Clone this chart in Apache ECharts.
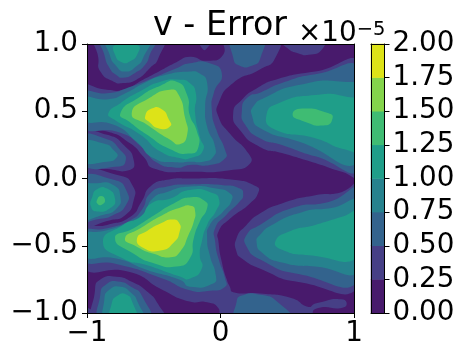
<!DOCTYPE html>
<html><head><meta charset="utf-8">
<style>html,body{margin:0;padding:0;background:#fff}#c{width:466px;height:360px}</style>
<script src="https://cdn.jsdelivr.net/npm/echarts@6/dist/echarts.min.js"></script>
</head><body><div id="c"></div>
<script>
// Contour outlines, in data units (x, y). Each list holds the regions where v-error >= that level.
const above000 = [
 [[-1,-1],[1,-1],[1,1],[-1,1]]
];
const above025 = [
 [[-.93,1.06],[-.915,.895],[-.9,.795],[-.8,.72],[-.73,.71],[-.63,.735],[-.53,.82],[-.465,.895],[-.44,1.06]],
 [[-.17,1.05],[-.14,.97],[-.11,.96],[-.065,1.05]],
 [[.435,1.05],[.5,.97],[.585,.93],[.66,.92],[.76,.96],[.77,1.05]],
 [[-1.05,.675],[-.85,.66],[-.73,.66],[-.58,.735],[-.455,.8],[-.33,.865],[-.23,.905],[-.1,.875],[.02,.92],[.035,1.06],[.42,1.06],[.41,.895],[.295,.81],[.095,.71],[-.015,.56],[-.015,.46],[.07,.335],[.21,.185],[.22,.11],[.095,.065],[-.23,.05],[-.5,.075],[-.575,.16],[-.675,.26],[-.85,.35],[-1.05,.365]],
 [[-1.05,.33],[-.85,.325],[-.71,.235],[-.65,.135],[-.675,.065],[-.85,.07],[-1.05,.09]],
 [[-1.05,.025],[-.75,.02],[-.655,-.06],[-.65,-.16],[-.71,-.27],[-.825,-.31],[-1.05,-.335]],
 [[-1.05,-.385],[-.85,-.345],[-.675,-.285],[-.59,-.17],[-.525,-.06],[-.4,-.01],[-.23,0],[.095,-.01],[.27,-.06],[.285,-.1],[.22,-.185],[.07,-.3],[-.015,-.395],[-.015,-.47],[.01,-.62],[.045,-.745],[.07,-.805],[.095,-.845],[.295,-.855],[.535,-.89],[.66,-.955],[.71,-.93],[.92,-.9],[.93,-.955],[.71,-.97],[.67,-1.05],[0,-1.05],[-.015,-.965],[-.1,-.92],[-.23,-.915],[-.43,-.83],[-.68,-.695],[-1.05,-.655]],
 [[-.925,-1.05],[-.94,-.83],[-.9,-.75],[-.78,-.73],[-.66,-.77],[-.55,-.84],[-.47,-.93],[-.43,-1.05]],
 [[-1.05,-.965],[-.95,-.985],[-.88,-1.05],[-1.05,-1.05]],
 [[.095,.485],[.16,.585],[.27,.67],[.43,.74],[.71,.795],[1.05,.84],[1.05,.02],[.91,.05],[.71,.115],[.46,.19],[.295,.235],[.145,.36]],
 [[.12,-.445],[.195,-.345],[.295,-.26],[.46,-.185],[.71,-.125],[.91,-.1],[1.05,-.03],[1.05,-.78],[.585,-.77],[.295,-.67],[.16,-.595],[.12,-.545]]
];
const above050 = [
 [[-.89,1.05],[-.87,.92],[-.83,.82],[-.78,.77],[-.73,.75],[-.64,.785],[-.565,.845],[-.53,.92],[-.49,1.05]],
 [[.09,1.06],[.095,.9],[.14,.84],[.24,.84],[.3,.9],[.31,1.06]],
 [[-1.05,.625],[-.83,.635],[-.68,.68],[-.5,.75],[-.33,.82],[-.23,.857],[-.08,.857],[.01,.78],[-.05,.635],[-.065,.51],[-.03,.36],[.035,.21],[.035,.15],[-.08,.1],[-.23,.1],[-.33,.08],[-.48,.12],[-.58,.225],[-.75,.34],[-1.05,.395]],
 [[-1.05,.305],[-.86,.295],[-.74,.2],[-.71,.135],[-.76,.09],[-1.05,.115]],
 [[-1.05,-.01],[-.8,-.01],[-.7,-.1],[-.71,-.2],[-.8,-.27],[-.9,-.3],[-1.05,-.3]],
 [[-1.05,-.41],[-.85,-.37],[-.675,-.31],[-.59,-.235],[-.525,-.11],[-.4,-.06],[-.23,-.045],[.02,-.05],[.145,-.075],[.17,-.12],[.145,-.17],[.045,-.27],[-.04,-.37],[-.04,-.47],[-.015,-.595],[.035,-.745],[.035,-.805],[-.08,-.835],[-.23,-.83],[-.43,-.745],[-.78,-.635],[-1.05,-.6]],
 [[-.888,-1.05],[-.9,-.86],[-.86,-.79],[-.77,-.765],[-.66,-.81],[-.59,-.87],[-.543,-1.05]],
 [[.16,.5],[.2,.6],[.3,.64],[.46,.71],[.71,.775],[1.05,.8],[1.05,.085],[.71,.165],[.46,.25],[.295,.3],[.185,.4]],
 [[.195,-.42],[.295,-.345],[.535,-.22],[.81,-.175],[1.05,-.09],[1.05,-.74],[.585,-.71],[.295,-.6],[.195,-.505]],
 [[.124,-1.05],[.12,-.92],[.16,-.87],[.3,-.865],[.43,-.92],[.52,-1.05]]
];
const above075 = [
 [[-.85,1.05],[-.83,.92],[-.78,.835],[-.715,.795],[-.63,.835],[-.58,.895],[-.54,1.05]],
 [[-1.05,.59],[-.84,.59],[-.73,.625],[-.56,.715],[-.43,.765],[-.23,.795],[-.155,.78],[-.1,.71],[-.115,.535],[-.1,.385],[-.04,.235],[-.055,.16],[-.13,.125],[-.23,.125],[-.33,.12],[-.5,.15],[-.63,.275],[-.8,.4],[-1.05,.445]],
 [[-1.05,.26],[-.875,.26],[-.79,.2],[-.775,.16],[-.85,.125],[-1.05,.135]],
 [[-1.05,-.07],[-.925,-.035],[-.8,-.05],[-.75,-.135],[-.775,-.22],[-.875,-.27],[-1.05,-.285]],
 [[-1.05,-.43],[-.85,-.385],[-.675,-.32],[-.575,-.26],[-.51,-.15],[-.4,-.1],[-.23,-.06],[-.03,-.075],[.07,-.11],[.085,-.16],[.02,-.245],[-.08,-.345],[-.1,-.445],[-.08,-.57],[-.035,-.72],[-.055,-.78],[-.23,-.805],[-.3,-.755],[-.55,-.68],[-.78,-.595],[-1.05,-.57]],
 [[-.85,-1.05],[-.87,-.9],[-.83,-.825],[-.75,-.805],[-.67,-.85],[-.62,-.92],[-.588,-1.05]],
 [[.235,.47],[.245,.535],[.33,.6],[.585,.695],[.92,.72],[1.05,.66],[1.05,.13],[.585,.275],[.295,.375]],
 [[.27,-.47],[.295,-.42],[.385,-.345],[.61,-.25],[.83,-.22],[1.05,-.18],[1.05,-.67],[.71,-.655],[.46,-.625],[.31,-.55]]
];
const above100 = [
 [[-.79,.99],[-.79,.92],[-.74,.865],[-.68,.87],[-.62,.93],[-.62,.99]],
 [[-.84,.485],[-.75,.56],[-.6,.65],[-.45,.72],[-.3,.735],[-.23,.71],[-.185,.635],[-.19,.485],[-.155,.31],[-.13,.21],[-.23,.15],[-.3,.15],[-.45,.2],[-.6,.325],[-.8,.44]],
 [[-.96,-.135],[-.925,-.08],[-.85,-.075],[-.79,-.15],[-.825,-.22],[-.925,-.245],[-.97,-.21]],
 [[-.88,-.47],[-.73,-.345],[-.6,-.285],[-.52,-.185],[-.38,-.15],[-.23,-.085],[-.055,-.11],[-.01,-.16],[-.03,-.235],[-.1,-.345],[-.14,-.47],[-.155,-.57],[-.14,-.67],[-.23,-.745],[-.3,-.73],[-.55,-.645],[-.73,-.595]],
 [[-.813,-1.05],[-.815,-.93],[-.77,-.87],[-.71,-.86],[-.66,-.92],[-.64,-1.05]],
 [[.345,.475],[.435,.56],[.71,.62],[.935,.61],[1.05,.55],[1.05,.215],[.935,.215],[.71,.3],[.395,.37]],
 [[.41,-.47],[.51,-.395],[.71,-.345],[.91,-.285],[1.05,-.245],[1.05,-.57],[.66,-.57],[.46,-.53]]
];
const above125 = [
 [[-.75,.485],[-.6,.61],[-.45,.69],[-.33,.72],[-.25,.62],[-.23,.47],[-.18,.36],[-.165,.235],[-.23,.185],[-.38,.22],[-.55,.325],[-.68,.42]],
 [[-.925,-.16],[-.895,-.13],[-.865,-.16],[-.89,-.195],[-.92,-.19]],
 [[-.79,-.445],[-.65,-.37],[-.5,-.275],[-.35,-.185],[-.22,-.14],[-.115,-.17],[-.1,-.22],[-.155,-.32],[-.2,-.445],[-.23,-.595],[-.33,-.655],[-.5,-.63],[-.65,-.56]],
 [[.54,.475],[.61,.52],[.81,.485],[.84,.45],[.785,.395],[.61,.43]]
];
const above150 = [
 [[-.665,.485],[-.53,.6],[-.38,.66],[-.315,.625],[-.265,.45],[-.25,.325],[-.305,.255],[-.38,.29],[-.55,.4]],
 [[-.715,-.445],[-.6,-.37],[-.45,-.28],[-.3,-.215],[-.215,-.205],[-.19,-.245],[-.2,-.32],[-.24,-.42],[-.3,-.54],[-.375,-.585],[-.5,-.56],[-.63,-.505]]
];
const above175 = [
 [[-.565,.46],[-.515,.52],[-.44,.515],[-.385,.435],[-.375,.39],[-.455,.37],[-.54,.425]],
 [[-.625,-.445],[-.55,-.39],[-.45,-.335],[-.36,-.305],[-.31,-.33],[-.305,-.39],[-.35,-.475],[-.45,-.535],[-.58,-.515]]
];
const outlinesByLevel = [above000,above025,above050,above075,above100,above125,above150,above175];
const levels = [0,0.25,0.5,0.75,1,1.25,1.5,1.75,2];
const bandColors = ["#481a6c","#463f86","#33638d","#26828e","#1f9e89","#3fbc73","#84d44b","#dde318"];
const xTicks = {"-1":"\u22121","0":"0","1":"1"};
const yTicks = {"-1":"\u22121.0","-0.5":"\u22120.5","0":"0.0","0.5":"0.5","1":"1.0"};
const titleText = "v - Error";

const polys = [];
outlinesByLevel.forEach((list,lv)=>list.forEach(pts=>polys.push({pts,lv})));
const font = "DejaVu Sans";
const lineS = {lineStyle:{color:"#000",width:1}};
const frameX = (g,pos)=>({type:"value",gridIndex:g,position:pos,min:-1,max:1,z:5,axisLine:{show:true,onZero:false,...lineS},axisTick:{show:false},axisLabel:{show:false},splitLine:{show:false}});
const tickAxis = (g,pos,min,max,iv,fmt,margin)=>({type:"value",gridIndex:g,position:pos,min,max,interval:iv,z:5,
  axisLine:{show:true,onZero:false,...lineS},axisTick:{show:true,length:5,...lineS},splitLine:{show:false},
  axisLabel:{show:true,fontFamily:font,fontSize:27.8,color:"#000",margin,showMinLabel:true,showMaxLabel:true,hideOverlap:false,formatter:fmt}});
const chart = echarts.init(document.getElementById("c"),null,{renderer:"canvas"});
chart.setOption({
  animation:false,
  backgroundColor:"#fff",
  title:[
    {text:titleText,left:148,top:5,textStyle:{fontFamily:font,fontSize:33.3,fontWeight:"normal",color:"#000"}},
    {text:"\u00d710{s|\u22125}",left:293,top:15,textStyle:{fontFamily:font,fontSize:27.8,fontWeight:"normal",color:"#000",
      rich:{s:{fontFamily:font,fontSize:19.5,verticalAlign:"top",padding:[0,0,8,0],color:"#000"}}}}
  ],
  grid:[
    {left:87,top:44,width:267,height:269},
    {left:371,top:44,width:13.5,height:269}
  ],
  xAxis:[
    tickAxis(0,"bottom",-1,1,1,v=>xTicks[String(v)],7),
    frameX(0,"top"),
    {type:"category",gridIndex:1,position:"bottom",data:[0],z:5,axisLine:{show:true,onZero:false,...lineS},axisTick:{show:false},axisLabel:{show:false}},
    frameX(1,"top")
  ],
  yAxis:[
    tickAxis(0,"left",-1,1,0.5,v=>yTicks[String(v)],9),
    frameX(0,"right"),
    {type:"category",gridIndex:1,position:"left",data:bandColors.map((c,b)=>b),z:5,axisLine:{show:true,onZero:false,...lineS},axisTick:{show:false},axisLabel:{show:false}},
    tickAxis(1,"right",0,2,0.25,v=>v.toFixed(2),8)
  ],
  visualMap:{type:"piecewise",show:false,seriesIndex:[1],dimension:2,
    pieces:bandColors.map((c,b)=>({min:levels[b],max:levels[b+1],color:c}))},
  series:[
    {type:"custom",xAxisIndex:0,yAxisIndex:0,clip:true,silent:true,
     data:polys.map(p=>[p.pts[0][0],p.pts[0][1],levels[p.lv]]),
     renderItem:(params,api)=>{
       const p=polys[params.dataIndex];
       return {type:"polygon",shape:{points:p.pts.map(q=>api.coord(q)),smooth:p.lv?0.6:0},style:{fill:bandColors[p.lv],stroke:null}};
     }},
    {type:"heatmap",xAxisIndex:2,yAxisIndex:2,progressive:0,silent:true,emphasis:{disabled:true},
     data:bandColors.map((c,b)=>[0,b,(levels[b]+levels[b+1])/2])}
  ]
});
</script></body></html>
